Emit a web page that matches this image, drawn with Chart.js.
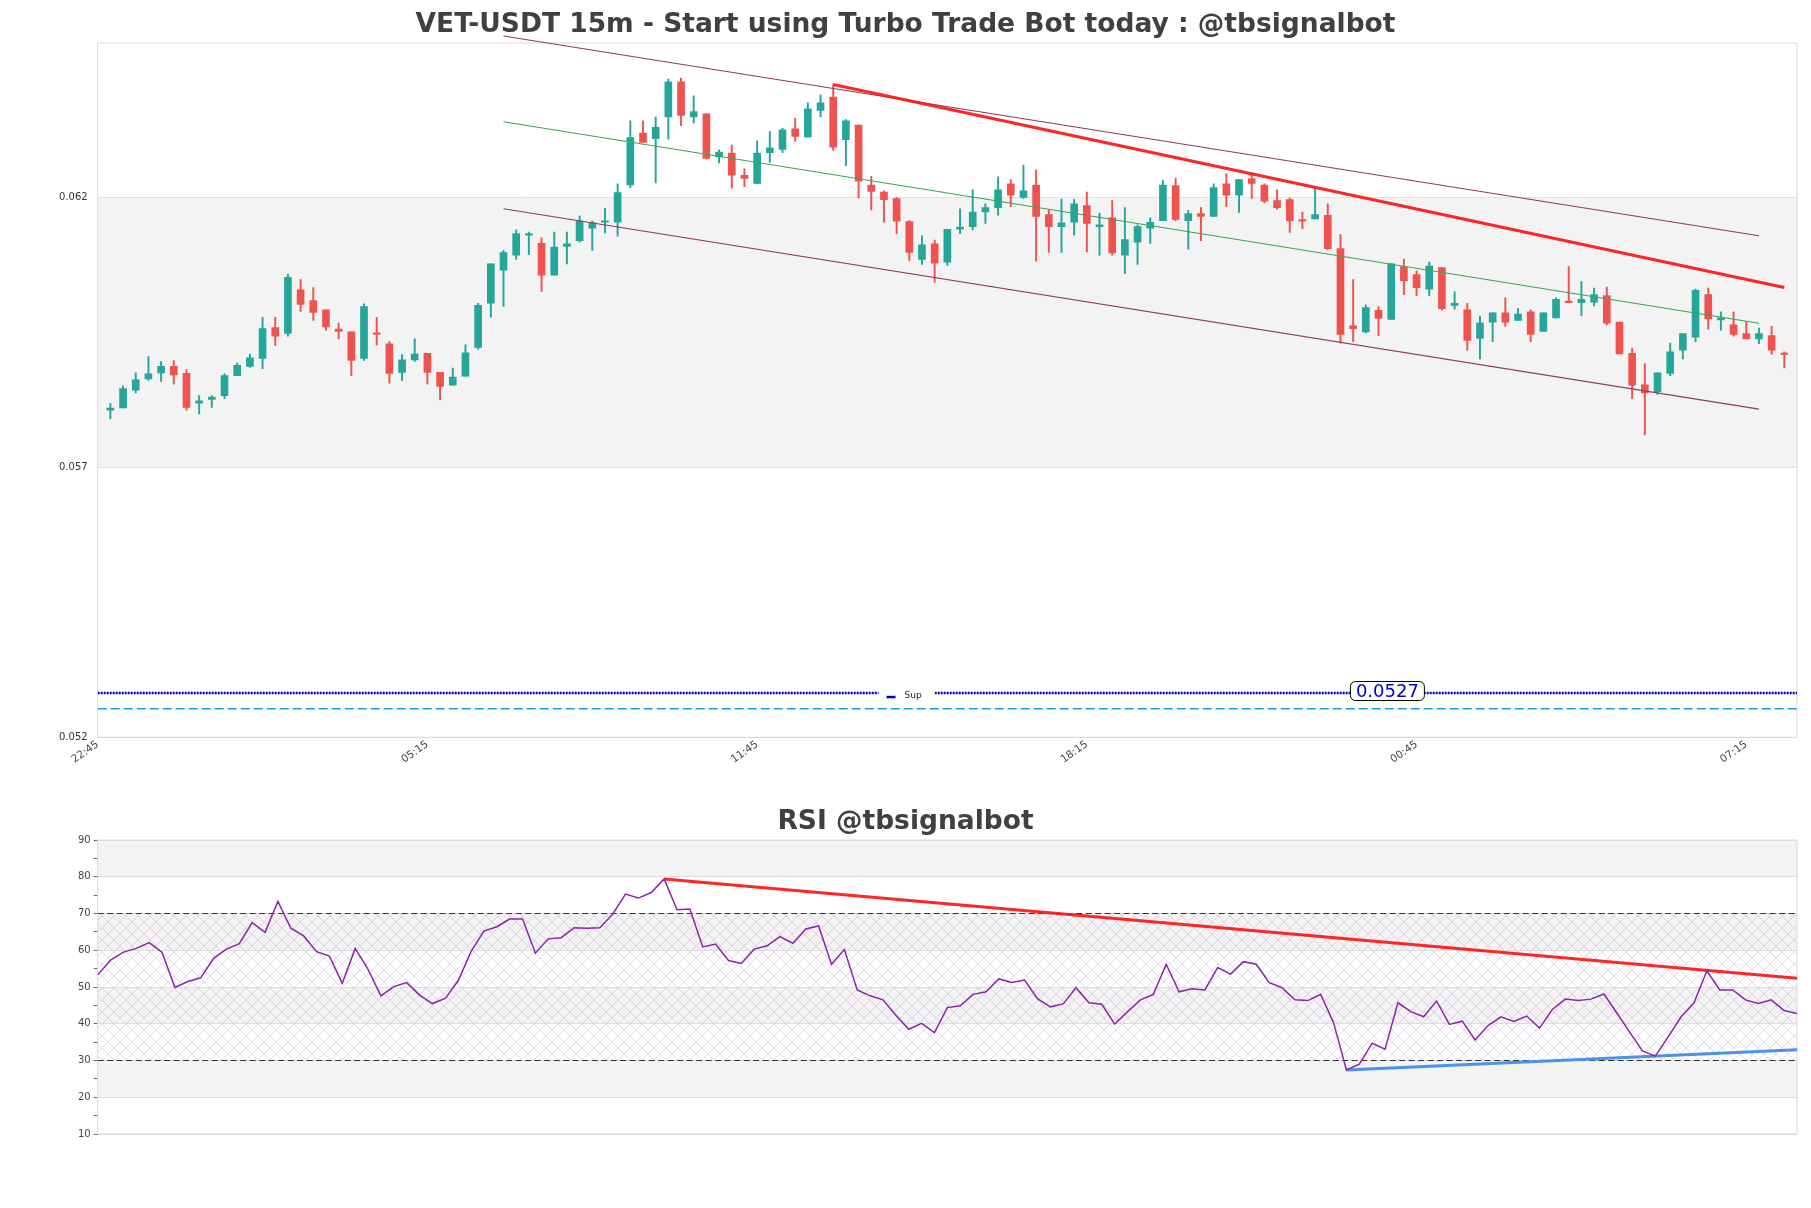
<!DOCTYPE html>
<html>
<head>
<meta charset="utf-8">
<script src="https://cdn.jsdelivr.net/npm/chart.js@4.4.1/dist/chart.umd.min.js"></script>
<style>
    html, body { margin: 0; padding: 0; background: #fff; }
    #wrap { position: relative; width: 1811px; height: 1208px; }
    #priceBox { position: absolute; left: 0; top: 0; width: 1811px; height: 790px; }
    #rsiBox { position: absolute; left: 0; top: 790px; width: 1811px; height: 418px; }
</style>
</head>
<body>
<div id="wrap">
    <div id="priceBox"><canvas id="priceChart" width="1811" height="790"></canvas></div>
    <div id="rsiBox"><canvas id="rsiChart" width="1811" height="418"></canvas></div>
</div>
<script>
// ==================== DATA ====================
const priceTitle = 'VET-USDT 15m - Start using Turbo Trade Bot today : @tbsignalbot';
const rsiTitle = 'RSI @tbsignalbot';

const timeTickLabels = ['22:45', '05:15', '11:45', '18:15', '00:45', '07:15'];
const timeTickIndex = [-1, 25, 51, 77, 103, 129];
const priceTicks = [0.052, 0.057, 0.062];
const rsiTicks = [10, 15, 20, 25, 30, 35, 40, 45, 50, 55, 60, 65, 70, 75, 80, 85, 90];

const opens = [
    0.05806, 0.05810, 0.05843, 0.05864, 0.05875, 0.05887, 0.05874, 0.05819, 0.05826, 0.05833,
    0.05870, 0.05887, 0.05902, 0.05959, 0.05948, 0.06029, 0.06009, 0.05992, 0.05956, 0.05951,
    0.05902, 0.05949, 0.05929, 0.05876, 0.05899, 0.05911, 0.05876, 0.05852, 0.05869, 0.05922,
    0.06004, 0.06065, 0.06093, 0.06130, 0.06115, 0.06056, 0.06109, 0.06120, 0.06143, 0.06154,
    0.06154, 0.06223, 0.06319, 0.06309, 0.06349, 0.06414, 0.06349, 0.06355, 0.06275, 0.06282,
    0.06241, 0.06226, 0.06283, 0.06289, 0.06327, 0.06312, 0.06361, 0.06386, 0.06307, 0.06334,
    0.06223, 0.06210, 0.06198, 0.06155, 0.06085, 0.06114, 0.06080, 0.06141, 0.06146, 0.06173,
    0.06181, 0.06225, 0.06200, 0.06223, 0.06168, 0.06146, 0.06154, 0.06185, 0.06146, 0.06162,
    0.06093, 0.06117, 0.06143, 0.06157, 0.06222, 0.06157, 0.06170, 0.06165, 0.06225, 0.06204,
    0.06235, 0.06223, 0.06194, 0.06196, 0.06159, 0.06160, 0.06167, 0.06105, 0.05962, 0.05951,
    0.05991, 0.05974, 0.06072, 0.06057, 0.06030, 0.06070, 0.06000, 0.05992, 0.05939, 0.05969,
    0.05986, 0.05972, 0.05988, 0.05952, 0.05977, 0.06007, 0.06005, 0.06006, 0.06018, 0.05969,
    0.05911, 0.05853, 0.05840, 0.05874, 0.05917, 0.05941, 0.06020, 0.05973, 0.05964, 0.05948,
    0.05938, 0.05944, 0.05911
];
const highs = [
    0.05818, 0.05851, 0.05875, 0.05905, 0.05896, 0.05898, 0.05881, 0.05833, 0.05833, 0.05873,
    0.05893, 0.05910, 0.05978, 0.05978, 0.06058, 0.06048, 0.06033, 0.05992, 0.05967, 0.05951,
    0.06003, 0.05978, 0.05933, 0.05909, 0.05938, 0.05911, 0.05876, 0.05884, 0.05927, 0.06004,
    0.06077, 0.06102, 0.06140, 0.06136, 0.06125, 0.06136, 0.06136, 0.06166, 0.06156, 0.06180,
    0.06225, 0.06342, 0.06342, 0.06349, 0.06419, 0.06421, 0.06388, 0.06355, 0.06288, 0.06297,
    0.06253, 0.06305, 0.06322, 0.06328, 0.06347, 0.06375, 0.06390, 0.06409, 0.06344, 0.06334,
    0.06239, 0.06212, 0.06200, 0.06157, 0.06129, 0.06121, 0.06141, 0.06179, 0.06214, 0.06188,
    0.06238, 0.06233, 0.06260, 0.06251, 0.06177, 0.06197, 0.06196, 0.06210, 0.06171, 0.06194,
    0.06181, 0.06149, 0.06162, 0.06231, 0.06236, 0.06176, 0.06181, 0.06225, 0.06244, 0.06233,
    0.06245, 0.06225, 0.06214, 0.06199, 0.06173, 0.06220, 0.06188, 0.06131, 0.06048, 0.06001,
    0.05998, 0.06077, 0.06086, 0.06064, 0.06080, 0.06070, 0.06025, 0.06004, 0.05980, 0.05986,
    0.06014, 0.05994, 0.05992, 0.05986, 0.06014, 0.06072, 0.06044, 0.06032, 0.06034, 0.05969,
    0.05921, 0.05892, 0.05875, 0.05930, 0.05948, 0.06030, 0.06032, 0.05988, 0.05988, 0.05970,
    0.05958, 0.05961, 0.05914
];
const lows = [
    0.05790, 0.05810, 0.05838, 0.05861, 0.05859, 0.05854, 0.05806, 0.05799, 0.05811, 0.05827,
    0.05870, 0.05885, 0.05883, 0.05926, 0.05943, 0.05989, 0.05972, 0.05954, 0.05938, 0.05870,
    0.05898, 0.05927, 0.05856, 0.05861, 0.05896, 0.05854, 0.05825, 0.05852, 0.05869, 0.05919,
    0.05978, 0.05998, 0.06085, 0.06094, 0.06026, 0.06056, 0.06077, 0.06117, 0.06102, 0.06134,
    0.06128, 0.06218, 0.06302, 0.06227, 0.06308, 0.06333, 0.06338, 0.06271, 0.06264, 0.06217,
    0.06220, 0.06225, 0.06265, 0.06283, 0.06304, 0.06311, 0.06349, 0.06287, 0.06259, 0.06199,
    0.06177, 0.06154, 0.06133, 0.06083, 0.06076, 0.06043, 0.06074, 0.06133, 0.06140, 0.06152,
    0.06167, 0.06183, 0.06198, 0.06082, 0.06098, 0.06098, 0.06130, 0.06099, 0.06093, 0.06093,
    0.06059, 0.06076, 0.06115, 0.06157, 0.06157, 0.06104, 0.06120, 0.06165, 0.06183, 0.06172,
    0.06198, 0.06190, 0.06178, 0.06135, 0.06142, 0.06160, 0.06103, 0.05930, 0.05933, 0.05949,
    0.05944, 0.05974, 0.06020, 0.06018, 0.06018, 0.05991, 0.05993, 0.05917, 0.05901, 0.05933,
    0.05961, 0.05972, 0.05933, 0.05952, 0.05977, 0.06005, 0.05981, 0.05999, 0.05964, 0.05910,
    0.05827, 0.05760, 0.05835, 0.05870, 0.05901, 0.05933, 0.05956, 0.05954, 0.05943, 0.05938,
    0.05929, 0.05909, 0.05884
];
const closes = [
    0.05810, 0.05846, 0.05862, 0.05873, 0.05887, 0.05871, 0.05811, 0.05823, 0.05830, 0.05870,
    0.05889, 0.05903, 0.05957, 0.05943, 0.06052, 0.06002, 0.05987, 0.05960, 0.05952, 0.05898,
    0.05998, 0.05946, 0.05874, 0.05899, 0.05910, 0.05876, 0.05850, 0.05867, 0.05912, 0.06000,
    0.06077, 0.06098, 0.06133, 0.06132, 0.06056, 0.06108, 0.06114, 0.06156, 0.06153, 0.06156,
    0.06209, 0.06311, 0.06302, 0.06330, 0.06414, 0.06352, 0.06359, 0.06272, 0.06284, 0.06241,
    0.06235, 0.06282, 0.06292, 0.06325, 0.06313, 0.06364, 0.06375, 0.06293, 0.06342, 0.06230,
    0.06211, 0.06196, 0.06156, 0.06098, 0.06112, 0.06078, 0.06141, 0.06145, 0.06173, 0.06181,
    0.06214, 0.06204, 0.06212, 0.06165, 0.06146, 0.06153, 0.06188, 0.06152, 0.06149, 0.06097,
    0.06122, 0.06146, 0.06154, 0.06223, 0.06159, 0.06170, 0.06165, 0.06218, 0.06204, 0.06233,
    0.06226, 0.06193, 0.06181, 0.06157, 0.06156, 0.06168, 0.06105, 0.05946, 0.05957, 0.05996,
    0.05976, 0.06077, 0.06046, 0.06033, 0.06073, 0.05994, 0.06004, 0.05935, 0.05967, 0.05986,
    0.05969, 0.05984, 0.05946, 0.05986, 0.06011, 0.06005, 0.06011, 0.06020, 0.05967, 0.05910,
    0.05852, 0.05838, 0.05875, 0.05914, 0.05948, 0.06028, 0.05975, 0.05977, 0.05946, 0.05938,
    0.05948, 0.05917, 0.05909
];

const rsiValues = [
    53.3, 57.3, 59.5, 60.5, 62.1, 59.4, 49.9, 51.5, 52.5, 57.8,
    60.3, 61.8, 67.5, 64.9, 73.3, 66.0, 63.9, 59.6, 58.4, 51.0,
    60.5, 54.8, 47.6, 50.1, 51.2, 47.8, 45.5, 46.9, 51.7, 59.6,
    65.2, 66.4, 68.5, 68.5, 59.2, 63.1, 63.4, 66.1, 66.0, 66.1,
    69.8, 75.3, 74.2, 75.7, 79.4, 71.0, 71.2, 60.9, 61.7, 57.2,
    56.4, 60.3, 61.2, 63.7, 61.9, 65.8, 66.6, 56.2, 60.2, 49.2,
    47.6, 46.5, 42.3, 38.5, 40.1, 37.6, 44.4, 44.9, 48.0, 48.7,
    52.2, 51.2, 51.9, 46.8, 44.6, 45.4, 49.8, 45.7, 45.3, 39.9,
    43.3, 46.5, 48.0, 56.2, 48.7, 49.5, 49.2, 55.3, 53.5, 56.9,
    56.2, 51.2, 49.8, 46.5, 46.3, 48.0, 40.3, 27.4, 29.0, 34.7,
    33.1, 45.7, 43.3, 41.9, 46.2, 39.8, 40.7, 35.6, 39.5, 41.9,
    40.6, 42.1, 38.8, 43.9, 46.7, 46.3, 46.7, 48.1, 43.0, 37.7,
    32.6, 31.2, 36.5, 41.9, 45.7, 54.4, 49.2, 49.2, 46.5, 45.5,
    46.5, 43.6, 42.8
];

// trend lines: [index, value] end points
const channelUpper = [[31, 0.06499], [130, 0.06129]];
const channelMid = [[31, 0.06340], [130, 0.05967]];
const channelLower = [[31, 0.06179], [130, 0.05808]];
const resistanceLine = [[57, 0.06409], [132, 0.06033]];
const rsiResistance = [[44, 79.4], [132, 52.4]];
const rsiSupport = [[97, 27.4], [132, 32.9]];

const supLevel = 0.05282;
const supText = '0.0527';
const dashLevel = 0.05253;
const rsiLevels = [30, 70];

// ==================== HELPERS ====================
const GREEN = '#26a69a';
const RED = '#ef5350';
const FRAME = '#d9d9d9';
const BAND = '#f3f3f3';

Chart.defaults.font.family = "'DejaVu Sans', sans-serif";
Chart.defaults.color = '#444';

const candleIdx = opens.map((_, i) => i);
const candleColors = candleIdx.map(i => closes[i] >= opens[i] ? GREEN : RED);
const seg = pts => pts.map(p => ({ x: p[0], y: p[1] }));
const flat = (v, a, b) => [{ x: a, y: v }, { x: b, y: v }];

function makeHatch() {
    const c = document.createElement('canvas');
    c.width = 12; c.height = 12;
    const g = c.getContext('2d');
    g.strokeStyle = 'rgba(175,150,200,0.5)';
    g.lineWidth = 0.7;
    g.beginPath();
    g.moveTo(0, 0); g.lineTo(12, 12);
    g.moveTo(12, 0); g.lineTo(0, 12);
    g.stroke();
    return c;
}

// bands, hatching and frame around the plot area
const framePlugin = {
    id: 'frame',
    beforeDraw(chart, args, o) {
        const { ctx, chartArea: a, scales: { y } } = chart;
        ctx.save();
        (o.bands || []).forEach(b => {
            const t = y.getPixelForValue(b[1]);
            const btm = y.getPixelForValue(b[0]);
            ctx.fillStyle = BAND;
            ctx.fillRect(a.left, t, a.right - a.left, btm - t);
        });
        if (o.hatch) {
            const t = y.getPixelForValue(o.hatch[1]);
            const btm = y.getPixelForValue(o.hatch[0]);
            ctx.fillStyle = ctx.createPattern(makeHatch(), 'repeat');
            ctx.fillRect(a.left, t, a.right - a.left, btm - t);
        }
        ctx.restore();
    },
    beforeDatasetsDraw(chart) {
        const { ctx, chartArea: a } = chart;
        ctx.save();
        ctx.strokeStyle = FRAME;
        ctx.lineWidth = 1;
        ctx.strokeRect(a.left, a.top, a.right - a.left, a.bottom - a.top);
        ctx.restore();
    }
};

// "Sup" legend and value tag on the support line
const supPlugin = {
    id: 'supTag',
    afterDatasetsDraw(chart) {
        const { ctx, scales: { x, y } } = chart;
        const yp = y.getPixelForValue(supLevel);
        const cx = chart.width / 2;
        ctx.save();
        ctx.fillStyle = '#fff';
        ctx.fillRect(cx - 27, yp - 8, 56, 17);
        ctx.strokeStyle = '#0000c0';
        ctx.lineWidth = 2.5;
        ctx.beginPath();
        ctx.moveTo(cx - 19, yp + 4);
        ctx.lineTo(cx - 10, yp + 4);
        ctx.stroke();
        ctx.fillStyle = '#222';
        ctx.font = "9px 'DejaVu Sans'";
        ctx.textBaseline = 'middle';
        ctx.textAlign = 'left';
        ctx.fillText('Sup', cx - 1, yp + 3);

        const tx = x.getPixelForValue(100.7);
        const ty = yp - 2;
        ctx.beginPath();
        ctx.roundRect(tx - 37, ty - 9.5, 74, 19, 5);
        ctx.fillStyle = '#fff';
        ctx.fill();
        ctx.strokeStyle = '#000';
        ctx.lineWidth = 1;
        ctx.stroke();
        ctx.fillStyle = '#0000cc';
        ctx.font = "18px 'DejaVu Sans'";
        ctx.textAlign = 'center';
        ctx.fillText(supText, tx, ty + 1);
        ctx.restore();
    }
};

const lineDs = (data, color, width, extra) => Object.assign({
    type: 'line', data: data, borderColor: color, borderWidth: width,
    pointRadius: 0, fill: false, tension: 0, order: 0
}, extra || {});

// ==================== PRICE CHART ====================
new Chart(document.getElementById('priceChart'), {
    type: 'bar',
    data: {
        datasets: [
            lineDs(seg(resistanceLine), 'rgba(255,20,20,0.92)', 3),
            lineDs(seg(channelUpper), '#8c3d5e', 1.2, { clip: false }),
            lineDs(seg(channelMid), '#3aa655', 1.1),
            lineDs(seg(channelLower), '#8c3d5e', 1.2),
            lineDs(flat(supLevel, -1, 133), '#0000c0', 2.5, { borderDash: [2, 1] }),
            lineDs(flat(dashLevel, -1, 133), '#1f9ad8', 1.5, { borderDash: [9, 4] }),
            {
                label: 'body', data: candleIdx.map(i => ({ x: i, y: [opens[i], closes[i]] })),
                backgroundColor: candleColors, barThickness: 7, grouped: false, minBarLength: 1.5, order: 1
            },
            {
                label: 'wick', data: candleIdx.map(i => ({ x: i, y: [lows[i], highs[i]] })),
                backgroundColor: candleColors, barThickness: 1.3, grouped: false, order: 2
            }
        ]
    },
    options: {
        responsive: false,
        animation: false,
        devicePixelRatio: 1,
        layout: { padding: { left: 14, right: 14, top: 0, bottom: 0 } },
        plugins: {
            legend: { display: false },
            tooltip: { enabled: false },
            title: {
                display: true, text: priceTitle, color: '#404040',
                font: { size: 26.5, weight: 'bold' }, padding: { top: 9, bottom: 2.2 }
            },
            frame: { bands: [[0.057, 0.062]] }
        },
        scales: {
            x: {
                type: 'linear', min: -1, max: 133, offset: false,
                grid: { display: false, drawTicks: false }, border: { display: false },
                afterBuildTicks: s => { s.ticks = timeTickIndex.map(v => ({ value: v })); },
                afterFit: s => { s.height = 52.7; },
                ticks: {
                    autoSkip: false, minRotation: 35, maxRotation: 35, padding: 1,
                    font: { size: 10.5 }, color: '#444',
                    callback: v => timeTickLabels[timeTickIndex.indexOf(v)]
                }
            },
            y: {
                type: 'linear', min: 0.052, max: 0.06486,
                grid: { color: '#e2e2e2', drawTicks: false }, border: { display: false },
                afterBuildTicks: s => { s.ticks = priceTicks.map(v => ({ value: v })); },
                afterFit: s => { s.width = 83.7; },
                ticks: { padding: 10, font: { size: 10 }, color: '#333', callback: v => String(v) }
            }
        }
    },
    plugins: [framePlugin, supPlugin]
});

// ==================== RSI CHART ====================
new Chart(document.getElementById('rsiChart'), {
    type: 'line',
    data: {
        datasets: [
            lineDs(rsiValues.map((v, i) => ({ x: i, y: v })), '#8e24aa', 1.5),
            lineDs(seg(rsiResistance), 'rgba(255,20,20,0.92)', 3),
            lineDs(seg(rsiSupport), '#4a93e8', 3),
            lineDs(flat(rsiLevels[1], 0, 132), '#333', 1.2, { borderDash: [6, 3.5] }),
            lineDs(flat(rsiLevels[0], 0, 132), '#333', 1.2, { borderDash: [6, 3.5] })
        ]
    },
    options: {
        responsive: false,
        animation: false,
        devicePixelRatio: 1,
        layout: { padding: { left: 14, right: 14, top: 0, bottom: 74 } },
        plugins: {
            legend: { display: false },
            tooltip: { enabled: false },
            title: {
                display: true, text: rsiTitle, color: '#404040',
                font: { size: 26.5, weight: 'bold' }, padding: { top: 16.7, bottom: 1.5 }
            },
            frame: { bands: [[80, 90], [60, 70], [40, 50], [20, 30]], hatch: rsiLevels }
        },
        scales: {
            x: { type: 'linear', min: 0, max: 132, display: false },
            y: {
                type: 'linear', min: 10, max: 90,
                border: { display: false },
                grid: {
                    color: c => (c.tick && c.tick.value % 10 === 0) ? '#dcdcdc' : 'rgba(0,0,0,0)',
                    tickColor: '#666', tickLength: 4
                },
                afterBuildTicks: s => { s.ticks = rsiTicks.map(v => ({ value: v })); },
                afterFit: s => { s.width = 83.7; },
                ticks: {
                    padding: 3, font: { size: 10 }, color: '#444',
                    callback: v => v % 10 === 0 ? String(v) : ''
                }
            }
        }
    },
    plugins: [framePlugin]
});
</script>
</body>
</html>
